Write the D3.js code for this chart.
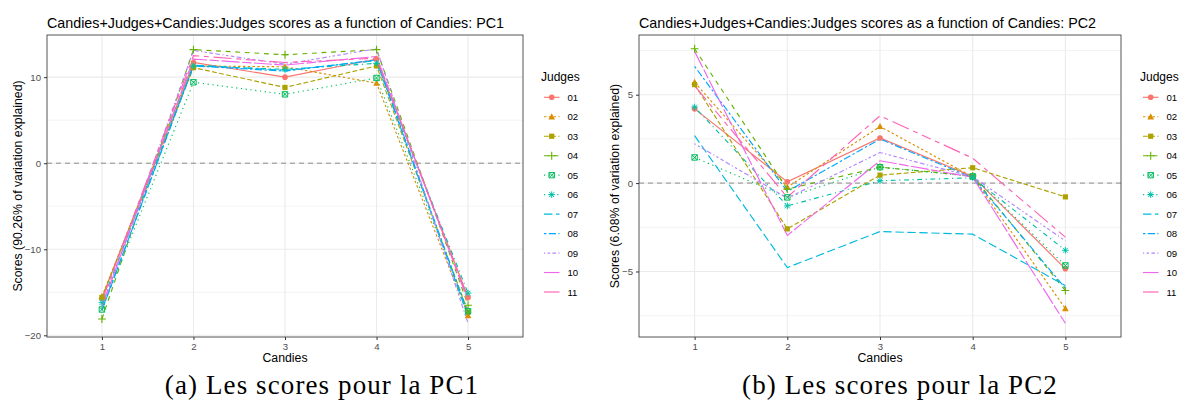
<!DOCTYPE html>
<html>
<head>
<meta charset="utf-8">
<script src="https://cdn.jsdelivr.net/npm/d3@7"></script>
<style>
  body { margin: 0; background: #fff; }
  svg text { font-family: "Liberation Sans", Arial, Helvetica, sans-serif; }
  svg text.caption { font-family: "Liberation Serif", "Times New Roman", serif; }
</style>
</head>
<body>
<svg id="fig" width="1180" height="410"></svg>
<script>
// Candies on the x axis, one line per judge
const candies = ["1", "2", "3", "4", "5"];
const judges = ["01", "02", "03", "04", "05", "06", "07", "08", "09", "10", "11"];

// PC1 scores, one row per judge (candies 1..5)
const pc1Scores = [
  [-15.7, 11.7, 10.0, 12.1, -15.6],   // 01
  [-15.5, 11.3, 11.2,  9.3, -17.7],   // 02
  [-15.6, 11.1,  8.8, 11.3, -17.3],   // 03
  [-18.1, 13.2, 12.6, 13.2, -16.5],   // 04
  [-17.0,  9.4,  8.0,  9.9, -17.2],   // 05
  [-16.2, 11.3, 10.9, 11.6, -15.1],   // 06
  [-17.1, 11.4, 10.8, 11.9, -17.8],   // 07
  [-17.0, 11.3, 10.7, 12.0, -17.5],   // 08
  [-16.8, 13.1, 11.5, 13.3, -18.6],   // 09
  [-16.6, 12.1, 11.4, 12.4, -16.0],   // 10
  [-16.0, 12.5, 11.7, 12.2, -15.8]    // 11
];

// PC2 scores, one row per judge (candies 1..5)
const pc2Scores = [
  [4.2,  0.07,  2.55, 0.38, -4.85],   // 01
  [5.7, -0.23,  3.2,  0.35, -7.1],    // 02
  [5.57, -2.59, 0.45, 0.87, -0.78],   // 03
  [7.6, -0.34,  0.9,  0.4,  -6.08],   // 04
  [1.45, -0.81, 0.9,  0.38, -4.66],   // 05
  [4.3, -1.29,  0.13, 0.3,  -3.8],    // 06
  [2.68, -4.78, -2.74, -2.89, -5.8],  // 07
  [6.6, -0.47,  2.49, 0.3,  -5.95],   // 08
  [2.22, -0.85, 1.73, 0.36, -3.27],   // 09
  [7.45, -2.96, 1.26, 0.33, -7.93],   // 10
  [5.5, -0.8,   3.81, 1.41, -3.06]    // 11
];

// Axis breaks for each panel
const pc1Ticks = [-20, -10, 0, 10];
const pc1MinorTicks = [-15, -5, 5];
const pc2Ticks = [-5, 0, 5];
const pc2MinorTicks = [-7.5, -2.5, 2.5, 7.5];

// Hue palette, R line-type codes and point shapes per judge
const judgeColors = ["#F8766D", "#DB8E00", "#AEA200", "#64B200", "#00BD5C", "#00C1A7",
                     "#00BADE", "#00A6FF", "#B385FF", "#EF67EB", "#FF63B6"];
const judgeLinetypes = ["solid", "22", "42", "44", "13", "1343", "73", "2262",
                        "12223242", "F282", "F4448444"];
const judgeShapes = ["circle", "triangle", "square", "plus", "squarecross", "asterisk",
                     null, null, null, null, null];

const svg = d3.select("#fig");
const DASH_UNIT = 1.2;

function dashArray(code) {
  if (code === "solid") return null;
  return code.split("").map(c => parseInt(c, 16) * DASH_UNIT).join(",");
}

// draws one point glyph centred at (0,0)
function drawShape(g, shape, color) {
  const s = 2.9;
  if (shape === "circle") {
    g.append("circle").attr("r", 2.8).attr("fill", color);
  } else if (shape === "triangle") {
    g.append("path").attr("d", `M0,${-s * 1.2}L${s * 1.15},${s * 0.9}L${-s * 1.15},${s * 0.9}Z`)
      .attr("fill", color);
  } else if (shape === "square") {
    g.append("rect").attr("x", -2.6).attr("y", -2.6).attr("width", 5.2).attr("height", 5.2)
      .attr("fill", color);
  } else if (shape === "plus") {
    g.append("path").attr("d", `M${-s * 1.35},0H${s * 1.35}M0,${-s * 1.35}V${s * 1.35}`)
      .attr("stroke", color).attr("stroke-width", 1.1).attr("fill", "none");
  } else if (shape === "squarecross") {
    const h = 2.7;
    g.append("path")
      .attr("d", `M${-h},${-h}H${h}V${h}H${-h}ZM${-h},${-h}L${h},${h}M${h},${-h}L${-h},${h}`)
      .attr("stroke", color).attr("stroke-width", 1).attr("fill", "none");
  } else if (shape === "asterisk") {
    const a = 3.3, d = 2.4;
    g.append("path")
      .attr("d", `M${-a},0H${a}M0,${-a}V${a}M${-d},${-d}L${d},${d}M${d},${-d}L${-d},${d}`)
      .attr("stroke", color).attr("stroke-width", 1).attr("fill", "none");
  }
}

const panels = [
  {
    scores: pc1Scores, ticks: pc1Ticks, minor: pc1MinorTicks,
    left: 47, right: 523, top: 35, bottom: 337,
    title: "Candies+Judges+Candies:Judges scores as a function of Candies: PC1",
    yTitle: "Scores (90.26% of variation explained)", yTitleX: 18,
    legendX: 541, caption: "(a) Les scores pour la PC1", captionX: 322
  },
  {
    scores: pc2Scores, ticks: pc2Ticks, minor: pc2MinorTicks,
    left: 639, right: 1121, top: 35, bottom: 337,
    title: "Candies+Judges+Candies:Judges scores as a function of Candies: PC2",
    yTitle: "Scores (6.08% of variation explained)", yTitleX: 615,
    legendX: 1140, caption: "(b) Les scores pour la PC2", captionX: 900
  }
];

panels.forEach(p => {
  const all = p.scores.flat();
  const lo = d3.min(all), hi = d3.max(all), pad = (hi - lo) * 0.05;

  const x = d3.scalePoint().domain(candies).range([p.left, p.right]).padding(0.6);
  const y = d3.scaleLinear().domain([lo - pad, hi + pad]).range([p.bottom, p.top]);

  const g = svg.append("g");

  // grid
  g.selectAll(".minor").data(p.minor.filter(v => v > y.domain()[0] && v < y.domain()[1]))
    .join("line")
    .attr("x1", p.left).attr("x2", p.right)
    .attr("y1", d => y(d)).attr("y2", d => y(d))
    .attr("stroke", "#EBEBEB").attr("stroke-width", 0.6);
  g.selectAll(".majorY").data(p.ticks).join("line")
    .attr("x1", p.left).attr("x2", p.right)
    .attr("y1", d => y(d)).attr("y2", d => y(d))
    .attr("stroke", "#EBEBEB").attr("stroke-width", 1.1);
  g.selectAll(".majorX").data(candies).join("line")
    .attr("x1", d => x(d)).attr("x2", d => x(d))
    .attr("y1", p.top).attr("y2", p.bottom)
    .attr("stroke", "#EBEBEB").attr("stroke-width", 1.1);

  // zero reference line
  g.append("line")
    .attr("x1", p.left).attr("x2", p.right)
    .attr("y1", y(0)).attr("y2", y(0))
    .attr("stroke", "#8c8c8c").attr("stroke-width", 1)
    .attr("stroke-dasharray", "5,4");

  // judge lines
  const line = d3.line().x((d, i) => x(candies[i])).y(d => y(d));
  p.scores.forEach((row, j) => {
    g.append("path").datum(row).attr("d", line)
      .attr("fill", "none").attr("stroke", judgeColors[j]).attr("stroke-width", 1.15)
      .attr("stroke-dasharray", dashArray(judgeLinetypes[j]));
  });
  // judge points
  p.scores.forEach((row, j) => {
    if (!judgeShapes[j]) return;
    row.forEach((v, i) => {
      const pg = g.append("g").attr("transform", `translate(${x(candies[i])},${y(v)})`);
      drawShape(pg, judgeShapes[j], judgeColors[j]);
    });
  });

  // panel border
  g.append("rect")
    .attr("x", p.left).attr("y", p.top)
    .attr("width", p.right - p.left).attr("height", p.bottom - p.top)
    .attr("fill", "none").attr("stroke", "#555").attr("stroke-width", 1);

  // axes
  const yAxis = d3.axisLeft(y).tickValues(p.ticks).tickSize(3).tickPadding(3)
    .tickFormat(d3.format("d"));
  const ay = g.append("g").attr("transform", `translate(${p.left},0)`).call(yAxis);
  const xAxis = d3.axisBottom(x).tickSize(3).tickPadding(3);
  const ax = g.append("g").attr("transform", `translate(0,${p.bottom})`).call(xAxis);
  [ay, ax].forEach(a => {
    a.select(".domain").remove();
    a.selectAll(".tick line").attr("stroke", "#333");
    a.selectAll(".tick text").attr("fill", "#4D4D4D").style("font-size", "9.6px");
  });

  // titles
  g.append("text").attr("x", p.left).attr("y", 28)
    .style("font-size", "14.3px").attr("fill", "#000").text(p.title);
  g.append("text").attr("x", (p.left + p.right) / 2).attr("y", 362)
    .attr("text-anchor", "middle").style("font-size", "12.3px").text("Candies");
  g.append("text")
    .attr("transform", `translate(${p.yTitleX + 4},${(p.top + p.bottom) / 2}) rotate(-90)`)
    .attr("text-anchor", "middle").style("font-size", "12.3px").text(p.yTitle);

  // legend
  const lg = g.append("g").attr("transform", `translate(${p.legendX},0)`);
  lg.append("text").attr("x", 0).attr("y", 81).style("font-size", "12px").text("Judges");
  judges.forEach((jd, j) => {
    const ky = 97.3 + j * 19.47;
    lg.append("line").attr("x1", 3).attr("x2", 18.5).attr("y1", ky).attr("y2", ky)
      .attr("stroke", judgeColors[j]).attr("stroke-width", 1.15)
      .attr("stroke-dasharray", dashArray(judgeLinetypes[j]));
    if (judgeShapes[j]) {
      const kg = lg.append("g").attr("transform", `translate(10.7,${ky})`);
      drawShape(kg, judgeShapes[j], judgeColors[j]);
    }
    lg.append("text").attr("x", 26.5).attr("y", ky + 3.5)
      .style("font-size", "9.6px").text(jd);
  });

  // sub-figure caption
  svg.append("text").attr("class", "caption")
    .attr("x", p.captionX).attr("y", 394)
    .attr("text-anchor", "middle").style("font-size", "27px")
    .style("letter-spacing", "1.1px").text(p.caption);
});
</script>
</body>
</html>
